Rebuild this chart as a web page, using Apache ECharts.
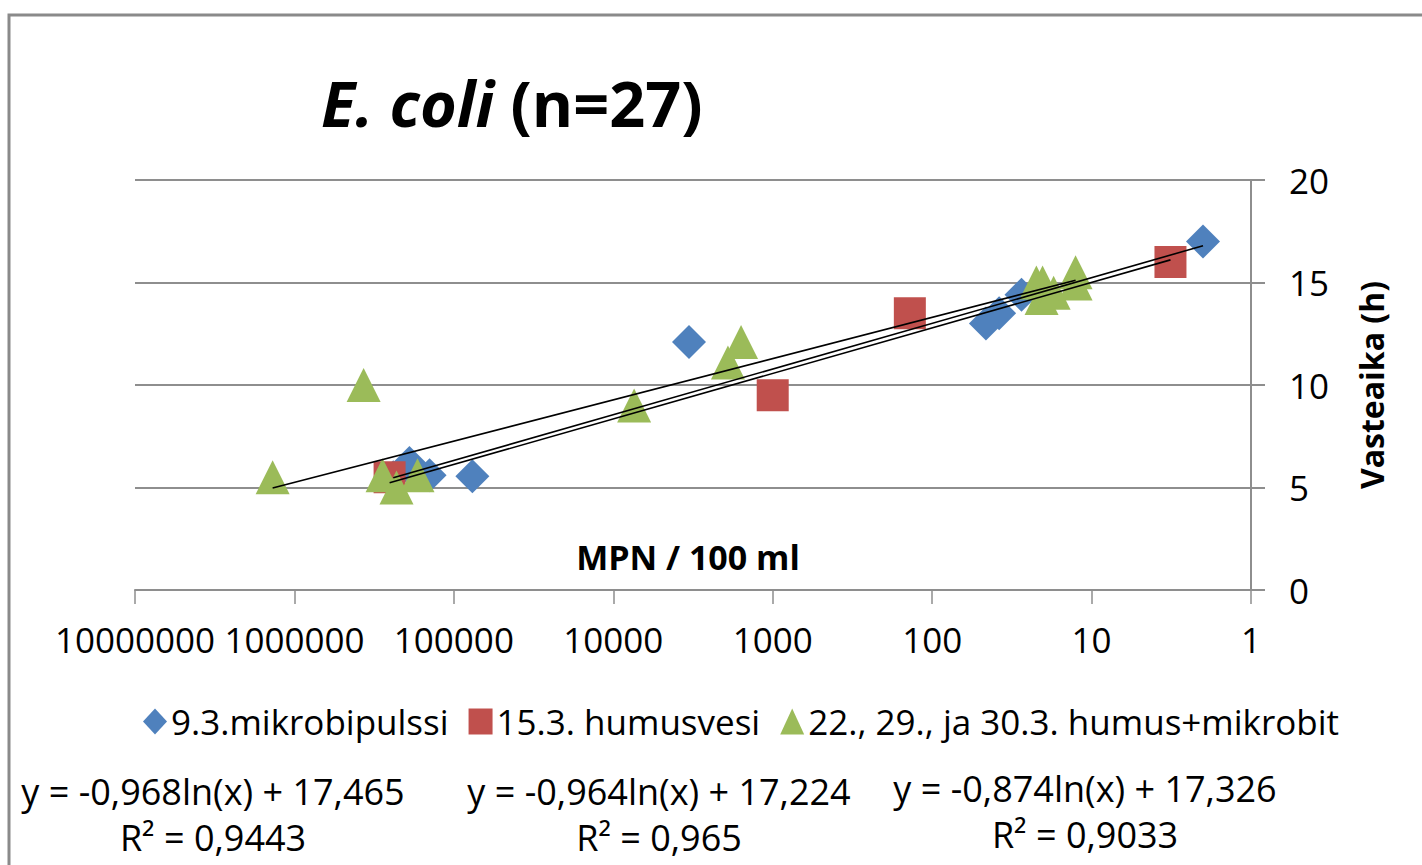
<!DOCTYPE html>
<html>
<head>
<meta charset="utf-8">
<script src="https://cdn.jsdelivr.net/npm/echarts@6/dist/echarts.min.js"></script>
<style>
html,body{margin:0;padding:0;background:#fff;}
#chart{width:1422px;height:865px;}
</style>
</head>
<body>
<div id="chart"></div>
<script>
// series names
var seriesNames = ['9.3.mikrobipulssi', '15.3. humusvesi', '22., 29., ja 30.3. humus+mikrobit'];
// MPN / 100 ml and vasteaika (h)
var blueX = [2.0, 3350, 76500, 190000, 142000, 46, 38, 27.5, 240000];
var blueY = [17.0, 12.1, 5.55, 6.2, 5.6, 13.0, 13.5, 14.4, 5.5];
var redX = [3.2, 138, 1000, 253000];
var redY = [16.0, 13.5, 9.5, 5.5];
var greenX = [1370000, 368000, 280000, 229000, 169000, 1580, 1910, 7400, 22.2, 20.3, 20.6, 17.3, 12.6, 12.6];
var greenY = [5.5, 10.0, 5.6, 5.0, 5.6, 12.1, 11.1, 9.0, 15.0, 15.0, 14.25, 14.5, 15.5, 14.95];
// trendlines y = a*ln(x) + b
var slopes = [-0.968, -0.964, -0.874];
var intercepts = [17.465, 17.224, 17.326];
var r2Values = ['0,9443', '0,965', '0,9033'];
var yTicks = [0, 5, 10, 15, 20];

var FONT = '"Open Sans", "Noto Sans", sans-serif';

var chartData = function(window){
	var _pairs = function(xs, ys){
		var out = [];
		for(var i=0;i<xs.length;i++){
			out.push([xs[i], ys[i]]);
		}
		return out;
	};
	// trendline drawn from smallest to largest x of the series
	var _trend = function(xs, k){
		var lo = Math.min.apply(null, xs), hi = Math.max.apply(null, xs);
		return [
			[lo, slopes[k]*Math.log(lo)+intercepts[k]],
			[hi, slopes[k]*Math.log(hi)+intercepts[k]]
		];
	};
	var _fmt = function(v){
		return String(Math.abs(v).toFixed(3)).replace('.', ',');
	};
	var _init = function(){
		var myChart = echarts.init(document.getElementById('chart'), null, {renderer:'svg'});
		var colors = ['#4F81BD', '#C0504D', '#9BBB59'];
		var xs = [blueX, redX, greenX];
		var ys = [blueY, redY, greenY];
		var symbols = ['diamond', 'rect', 'triangle'];
		var sizes = [[34,34], [32,32], [34,34]];
		var series = [];
		for(var k=0;k<3;k++){
			series.push({
				name: seriesNames[k],
				type: 'scatter',
				symbol: symbols[k],
				symbolSize: sizes[k],
				itemStyle: {color: colors[k], opacity: 1},
				data: _pairs(xs[k], ys[k]),
				z: 2
			});
		}
		for(var k=0;k<3;k++){
			series.push({
				name: 'trend'+k,
				type: 'line',
				symbol: 'none',
				lineStyle: {color: '#000', width: 1.6},
				data: _trend(xs[k], k),
				z: 3,
				silent: true
			});
		}
		// equation texts under the legend
		var eqX = [213, 659, 1085];
		var eqY = [791, 791, 788];
		var graphics = [{
			type: 'rect',
			shape: {x: 9, y: 15, width: 1500, height: 950},
			style: {fill: 'none', stroke: '#8a8a8a', lineWidth: 3},
			silent: true
		}, {
			// x axis title sits inside the plot area
			type: 'text',
			x: 688, y: 557,
			style: {text: 'MPN / 100 ml', font: 'bold 34px ' + FONT, fill: '#000', align: 'center', verticalAlign: 'middle'}
		}];
		for(var k=0;k<3;k++){
			graphics.push({
				type: 'text',
				x: eqX[k], y: eqY[k],
				style: {
					text: 'y = -' + _fmt(slopes[k]) + 'ln(x) + ' + _fmt(intercepts[k]),
					font: '36px ' + FONT, fill: '#000', align: 'center', verticalAlign: 'middle'
				}
			});
			graphics.push({
				type: 'text',
				x: eqX[k], y: eqY[k]+46,
				style: {
					text: 'R² = ' + r2Values[k],
					font: '36px ' + FONT, fill: '#000', align: 'center', verticalAlign: 'middle'
				}
			});
		}
		var option = {
			backgroundColor: '#fff',
			animation: false,
			title: {
				text: '{i|E. coli} (n=27)',
				left: 316,
				top: 66,
				textStyle: {
					fontFamily: FONT, fontSize: 63, fontWeight: 'bold', color: '#000',
					rich: {i: {fontFamily: FONT, fontSize: 63, fontWeight: 'bold', fontStyle: 'italic', color: '#000'}}
				}
			},
			legend: {
				data: seriesNames,
				left: 138,
				top: 699,
				itemWidth: 24,
				itemHeight: 26,
				itemGap: 20,
				textStyle: {fontFamily: FONT, fontSize: 35, color: '#000', padding: [0,0,0,-1]}
			},
			grid: {left: 135, right: 171, top: 180, bottom: 275},
			xAxis: {
				type: 'log',
				logBase: 10,
				min: 1,
				max: 10000000,
				inverse: true,
				axisLine: {show: true, lineStyle: {color: '#8e8e8e', width: 2}},
				axisTick: {show: true, length: 14, lineStyle: {color: '#8e8e8e', width: 1.5}},
				minorTick: {show: false},
				splitLine: {show: false},
				axisLabel: {
					fontFamily: FONT, fontSize: 35, color: '#000', margin: 32,
					formatter: function(v){ return String(Math.round(v)); }
				}
			},
			yAxis: {
				type: 'value',
				position: 'right',
				min: yTicks[0],
				max: yTicks[yTicks.length-1],
				interval: 5,
				name: 'Vasteaika (h)',
				nameLocation: 'middle',
				nameRotate: 90,
				nameGap: 104,
				nameTextStyle: {fontFamily: FONT, fontSize: 32, fontWeight: 'bold', color: '#000'},
				axisLine: {show: true, lineStyle: {color: '#8e8e8e', width: 2}},
				axisTick: {show: true, length: 14, lineStyle: {color: '#8e8e8e', width: 2}},
				splitLine: {show: true, lineStyle: {color: '#8e8e8e', width: 2}},
				axisLabel: {fontFamily: FONT, fontSize: 35, color: '#000', margin: 38}
			},
			series: series,
			graphic: graphics
		};
		myChart.setOption(option);
	};
	return {
		init: _init
	};
}(window);

chartData.init();
</script>
</body>
</html>
